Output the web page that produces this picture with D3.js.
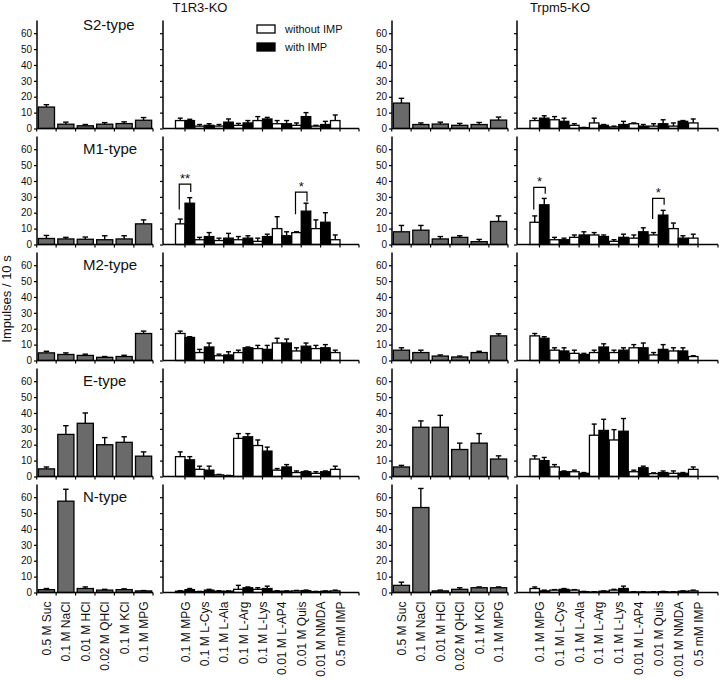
<!DOCTYPE html>
<html>
<head>
<meta charset="utf-8">
<script src="https://cdn.jsdelivr.net/npm/d3@7"></script>
<style>
body { margin: 0; background: #fff; }
text { font-family: "Liberation Sans", Arial, sans-serif; fill: #111; }
</style>
</head>
<body>
<svg width="720" height="681"></svg>
<script>
var groups = ["T1R3-KO", "Trpm5-KO"];
var types = ["S2-type", "M1-type", "M2-type", "E-type", "N-type"];
var basicStimuli = ["0.5 M Suc", "0.1 M NaCl", "0.01 M HCl", "0.02 M QHCl", "0.1 M KCl", "0.1 M MPG"];
var aminoStimuli = ["0.1 M MPG", "0.1 M L-Cys", "0.1 M L-Ala", "0.1 M L-Arg", "0.1 M L-Lys",
                    "0.01 M L-AP4", "0.01 M Quis", "0.01 M NMDA", "0.5 mM IMP"];
var yTicks = [0, 10, 20, 30, 40, 50, 60];
var legendLabels = ["without IMP", "with IMP"];

// T1R3-KO, rows = S2, M1, M2, E, N
var t1r3Basic = [
  [13.5, 2.7, 1.7, 2.7, 3.1, 5.2],
  [3.8, 3.5, 3.3, 3.0, 3.5, 13.0],
  [4.8, 3.8, 3.2, 2.0, 2.5, 17.0],
  [4.8, 26.5, 33.5, 20.0, 21.5, 12.8],
  [1.8, 57.5, 2.5, 1.5, 1.8, 1.0]
];
var t1r3BasicSem = [
  [1.5, 1.3, 0.8, 1.0, 1.1, 1.7],
  [1.9, 1.0, 1.4, 2.5, 2.0, 2.5],
  [1.0, 1.0, 0.8, 0.5, 0.8, 1.5],
  [1.2, 5.5, 6.5, 4.5, 3.5, 2.7],
  [0.7, 7.5, 1.0, 0.5, 0.5, 0.2]
];
var t1r3Without = [
  [5, 1.5, 1.5, 2, 5, 3, 2, 1.5, 5],
  [13, 3, 2.5, 3, 2, 10, 7.5, 10, 3],
  [17, 5, 3, 5, 7.5, 11, 6, 7.5, 5],
  [12.5, 4.5, 1, 24, 19.5, 4, 2.5, 2, 4.5],
  [0.8, 0.5, 0.8, 2, 2, 0.8, 1, 0.5, 1]
];
var t1r3WithoutSem = [
  [1.5, 1, 1, 1.2, 2.5, 2, 1.5, 0.5, 3.5],
  [3, 1.5, 1.5, 2, 2, 7.5, 0.5, 5.5, 3],
  [1.5, 2, 1, 1.5, 2, 3, 2, 2, 1.5],
  [3, 2, 0.3, 3, 3.5, 1, 1, 1, 2],
  [0.3, 0.2, 0.3, 2.5, 1, 0.3, 0.3, 0.2, 0.5]
];
var t1r3With = [
  [5, 2, 4, 3.5, 6, 3, 7.5, 2.5, null],
  [26, 5, 4, 4, 5, 5.5, 21, 14, null],
  [14.5, 8.5, 3.5, 8, 7, 11, 9, 8, null],
  [10.5, 4, 0.5, 25, 16, 6, 3, 3, null],
  [1.8, 1.5, 0.8, 3, 2.5, 0.8, 1.2, 0.8, null]
];
var t1r3WithSem = [
  [0.8, 1, 2, 1.5, 1, 2, 2.5, 2, null],
  [3.5, 2.5, 3, 1.5, 1.5, 2.5, 5, 6, null],
  [0.5, 2.5, 2, 0.5, 2.5, 2.5, 2, 2, null],
  [2, 2.5, 0.2, 2, 2.5, 1.5, 0.5, 0.5, null],
  [0.7, 0.5, 0.2, 0.5, 1.5, 0.2, 0.3, 0.2, null]
];

// Trpm5-KO
var trpm5Basic = [
  [16, 2.5, 2.8, 2, 2.5, 5.3],
  [8, 9, 3.5, 4.5, 1.8, 14.5],
  [6.5, 5, 2.8, 2.2, 5, 15.5],
  [6, 31, 31, 17, 21, 11],
  [4.5, 53.5, 1, 2, 3, 3]
];
var trpm5BasicSem = [
  [3, 1, 1.2, 1.2, 1.3, 1.9],
  [4, 3, 1.5, 1, 1.4, 3.5],
  [1.5, 1.5, 0.7, 0.6, 0.8, 1.3],
  [1, 4, 7.5, 4, 6, 2],
  [2, 12, 0.5, 1, 0.5, 0.5]
];
var trpm5Without = [
  [5, 5.5, 2, 3.5, 1, 3, 1.5, 1.5, 3.5],
  [14, 3, 4.5, 6, 2, 4, 6, 10, 4],
  [15.5, 6.5, 4.5, 5, 5, 8, 3.5, 6, 2.5],
  [11, 6, 3, 26, 23, 3, 1.8, 2, 4.5],
  [2.5, 1.5, 1.5, 0.3, 1.5, 0.3, 0.3, 0.3, 1]
];
var trpm5WithoutSem = [
  [1.5, 2, 1, 3, 0.5, 0.5, 1.5, 2, 2.5],
  [4, 1.5, 1.5, 1.5, 1, 2, 1.5, 3.5, 2.5],
  [1.5, 1.5, 2, 1.5, 1.5, 2, 1.5, 2, 0.5],
  [2, 1.5, 1, 7, 6.5, 1, 0.5, 1.5, 1.5],
  [1, 0.3, 0.3, 0.2, 0.5, 0.2, 0.2, 0.2, 0.5]
];
var trpm5With = [
  [6.5, 4.5, 0.5, 2, 2.5, 1.5, 3, 4.5, null],
  [25, 3, 6, 5, 4.5, 8, 18.5, 4, null],
  [14, 6, 3.8, 8.5, 6.5, 8, 7, 6, null],
  [10, 3, 2, 29, 28.5, 5.5, 2.5, 2, null],
  [1, 2, 0.5, 0.8, 2.5, 0.3, 0.5, 0.8, null]
];
var trpm5WithSem = [
  [1.5, 2, 0.2, 0.5, 2, 1, 2.5, 0.5, null],
  [4, 1, 2, 1, 2, 2.5, 3, 1.5, null],
  [1, 2, 0.7, 2, 1.5, 3, 3, 2, null],
  [2, 0.5, 0.5, 7, 8, 1, 1, 0.5, null],
  [0.5, 0.5, 0.2, 0.2, 1.5, 0.2, 0.2, 0.2, null]
];

// significance brackets (values in impulses / 10 s)
var sigMarks = [
  {group: 0, row: 1, stim: 0, top: 38, left: 22, right: 33, label: "**"},
  {group: 0, row: 1, stim: 6, top: 33, left: 19, right: 27, label: "*"},
  {group: 1, row: 1, stim: 0, top: 36, left: 22, right: 32, label: "*"},
  {group: 1, row: 1, stim: 6, top: 29, left: 16, right: 25, label: "*"}
];

var groupData = [
  {basic: t1r3Basic, basicSem: t1r3BasicSem, without: t1r3Without, withoutSem: t1r3WithoutSem, with: t1r3With, withSem: t1r3WithSem},
  {basic: trpm5Basic, basicSem: trpm5BasicSem, without: trpm5Without, withoutSem: trpm5WithoutSem, with: trpm5With, withSem: trpm5WithSem}
];

var svg = d3.select("svg");

var layout = [
  {basicX: [37, 153], aminoX: [163, 359], aminoC: [185, 340], title: 200},
  {basicX: [392, 508], aminoX: [517, 718], aminoC: [539.5, 698], title: 560}
];
var rowStep = 116, firstZero = 128.5;
var grey = "#6a6a6a";

var yScaleFor = function(r){
  var zero = firstZero + rowStep * r;
  return d3.scaleLinear().domain([0, 68]).range([zero, zero - 108]);
};

var errBar = function(g, x, yTop, yBot, cap){
  g.append("line").attr("x1", x).attr("x2", x).attr("y1", yBot).attr("y2", yTop)
    .attr("stroke", "#000").attr("stroke-width", 1.4);
  g.append("line").attr("x1", x - cap / 2).attr("x2", x + cap / 2).attr("y1", yTop).attr("y2", yTop)
    .attr("stroke", "#000").attr("stroke-width", 1.4);
};

groups.forEach(function(name, gi){
  var L = layout[gi];
  var D = groupData[gi];

  svg.append("text").attr("x", L.title).attr("y", 12).attr("text-anchor", "middle")
    .style("font-size", "13px").text(name);

  var xBasic = d3.scaleBand().domain(basicStimuli).range(L.basicX).paddingInner(0.17).paddingOuter(0.07);
  var xAmino = d3.scalePoint().domain(aminoStimuli).range(L.aminoC);
  var half = 9.5;

  types.forEach(function(t, r){
    var y = yScaleFor(r);
    var zero = y(0);

    // basic panel
    var gb = svg.append("g");
    var basicVals = basicStimuli.map(function(s, i){ return {s: s, v: D.basic[r][i], e: D.basicSem[r][i]}; });
    basicVals.forEach(function(d){
      errBar(gb, xBasic(d.s) + xBasic.bandwidth() / 2, y(d.v + d.e), y(d.v), 5.5);
    });
    gb.selectAll("rect").data(basicVals).enter().append("rect")
      .attr("x", function(d){ return xBasic(d.s); })
      .attr("y", function(d){ return y(d.v); })
      .attr("width", xBasic.bandwidth())
      .attr("height", function(d){ return zero - y(d.v); })
      .attr("fill", grey).attr("stroke", "#000").attr("stroke-width", 1.3);

    // amino panel
    var ga = svg.append("g");
    aminoStimuli.forEach(function(s, i){
      var cx = xAmino(s);
      var w = D.without[r][i], we = D.withoutSem[r][i];
      var b = D.with[r][i], be = D.withSem[r][i];
      if (w != null) {
        errBar(ga, cx - half / 2, y(w + we), y(w), 5);
        ga.append("rect").attr("x", cx - half).attr("y", y(w)).attr("width", half)
          .attr("height", zero - y(w)).attr("fill", "#fff").attr("stroke", "#000").attr("stroke-width", 1.3);
      }
      if (b != null) {
        errBar(ga, cx + half / 2, y(b + be), y(b), 5);
        ga.append("rect").attr("x", cx).attr("y", y(b)).attr("width", half)
          .attr("height", zero - y(b)).attr("fill", "#000").attr("stroke", "#000").attr("stroke-width", 1.3);
      }
    });

    // axes
    [L.basicX, L.aminoX].forEach(function(xr, pi){
      var ax = d3.axisLeft(y).tickValues(yTicks).tickSize(3).tickPadding(2);
      if (pi === 1) ax.tickFormat("");
      var ga2 = svg.append("g").attr("transform", "translate(" + xr[0] + ",0)").call(ax);
      ga2.select(".domain").remove();
      ga2.selectAll(".tick line").attr("stroke", "#000").attr("stroke-width", 1.2);
      ga2.selectAll(".tick text").style("font-size", "10px").style("font-family", "Liberation Sans, Arial, sans-serif").attr("fill", "#222");
      svg.append("line").attr("x1", xr[0]).attr("x2", xr[0]).attr("y1", y(68)).attr("y2", zero)
        .attr("stroke", "#000").attr("stroke-width", 1.5);
      svg.append("line").attr("x1", xr[0]).attr("x2", xr[1]).attr("y1", zero).attr("y2", zero)
        .attr("stroke", "#000").attr("stroke-width", 1.5);
    });
    // x ticks
    var bTicks = xBasic.domain().map(function(s){ return xBasic(s) - xBasic.step() * xBasic.paddingInner() / 2; });
    bTicks.push(L.basicX[1]);
    bTicks.forEach(function(tx){
      svg.append("line").attr("x1", tx).attr("x2", tx).attr("y1", zero).attr("y2", zero + 3)
        .attr("stroke", "#000").attr("stroke-width", 1.2);
    });
    aminoStimuli.forEach(function(s){
      svg.append("line").attr("x1", xAmino(s)).attr("x2", xAmino(s)).attr("y1", zero).attr("y2", zero + 3)
        .attr("stroke", "#000").attr("stroke-width", 1.2);
    });
    svg.append("line").attr("x1", L.aminoX[1]).attr("x2", L.aminoX[1]).attr("y1", zero).attr("y2", zero + 3)
      .attr("stroke", "#000").attr("stroke-width", 1.2);

    if (gi === 0) {
      svg.append("text").attr("x", 83).attr("y", r === 0 ? y(62) : y(57))
        .style("font-size", "15px").text(t);
    }

    // bottom labels
    if (r === types.length - 1) {
      basicStimuli.forEach(function(s){
        var cx = xBasic(s) + xBasic.bandwidth() / 2 + 4.5;
        svg.append("text").attr("transform", "translate(" + cx + "," + (zero + 9) + ") rotate(-90)")
          .attr("text-anchor", "end").style("font-size", "12px").text(s);
      });
      aminoStimuli.forEach(function(s){
        var cx = xAmino(s) + 4.5;
        svg.append("text").attr("transform", "translate(" + cx + "," + (zero + 9) + ") rotate(-90)")
          .attr("text-anchor", "end").style("font-size", "12px").text(s);
      });
    }
  });

  // significance
  sigMarks.filter(function(m){ return m.group === gi; }).forEach(function(m){
    var y = yScaleFor(m.row);
    var cx = xAmino(aminoStimuli[m.stim]);
    var xl = cx - half / 2 - 1, xr = cx + half / 2 + 1;
    svg.append("path")
      .attr("d", "M" + xl + "," + y(m.left) + "V" + y(m.top) + "H" + xr + "V" + y(m.right))
      .attr("fill", "none").attr("stroke", "#000").attr("stroke-width", 1.2);
    svg.append("text").attr("x", (xl + xr) / 2).attr("y", y(m.top) - 1).attr("text-anchor", "middle")
      .style("font-size", "13px").text(m.label);
  });
});

// legend
var legend = svg.append("g").attr("transform", "translate(257,25)");
legendLabels.forEach(function(l, i){
  legend.append("rect").attr("x", 0).attr("y", i * 18).attr("width", 18).attr("height", 8)
    .attr("fill", i === 0 ? "#fff" : "#000").attr("stroke", "#000").attr("stroke-width", 1.3);
  legend.append("text").attr("x", 28).attr("y", i * 18 + 8).style("font-size", "11px").text(l);
});

// y axis title
svg.append("text").attr("transform", "translate(11,299) rotate(-90)").attr("text-anchor", "middle")
  .style("font-size", "13px").text("Impulses / 10 s");
</script>
</body>
</html>
